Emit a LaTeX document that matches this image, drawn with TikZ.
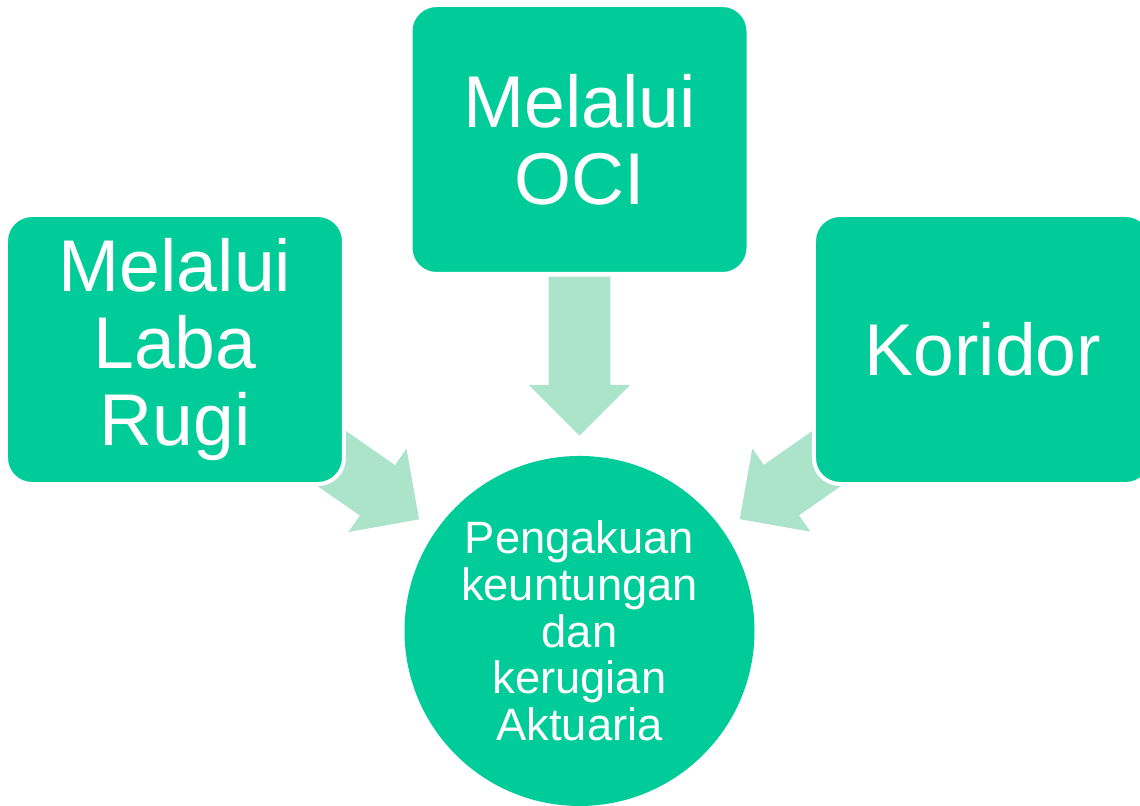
\documentclass[tikz,border=0pt]{standalone}
\usepackage{fontspec}
\setmainfont{Liberation Sans}
\usetikzlibrary{positioning,shapes.arrows,calc,backgrounds}
\definecolor{boxgreen}{RGB}{0,204,153}
\definecolor{arrowgreen}{RGB}{171,227,203}

\begin{document}
\begin{tikzpicture}[x=0.75pt,y=-0.75pt,on grid,
  box/.style={rectangle,rounded corners=19.5pt,fill=boxgreen,draw=white,line width=3pt,
    minimum width=253.5pt,minimum height=201.75pt,inner sep=0pt,text=white,align=center,
    font=\fontsize{55}{58}\selectfont},
  hub/.style={circle,fill=boxgreen,minimum size=262.5pt,inner sep=0pt,text=white,
    align=center,font=\fontsize{34}{35}\selectfont},
  flow/.style={single arrow,fill=arrowgreen,minimum height=119.25pt,minimum width=0pt,
    inner xsep=0pt,inner ysep=22.875pt,single arrow head extend=15pt,anchor=tip}]
\useasboundingbox (0,0) rectangle (1140,806);

\node[box] (obox) at (579.5,139.5) {Melalui\\OCI};
\node[box] (lbox) [below left=157.5pt and 303.4pt of obox] {Melalui\\Laba\\Rugi};
\node[box] (rbox) [below right=157.5pt and 302.6pt of obox] {Koridor};
\node[hub] (hub) [below=368.6pt of obox] {Pengakuan\\keuntungan\\dan\\kerugian\\Aktuaria};

% arrows go under the boxes
\begin{scope}[on background layer]
\node[flow,rotate=-90]     (oflow) at ($(hub)!146.3pt!(obox)$) {};
\node[flow,rotate=-34.87]  (lflow) at ($(hub)!146.3pt!(lbox)$) {};
\node[flow,rotate=-145.07] (rflow) at ($(hub)!146.3pt!(rbox)$) {};
\end{scope}
\end{tikzpicture}
\end{document}
